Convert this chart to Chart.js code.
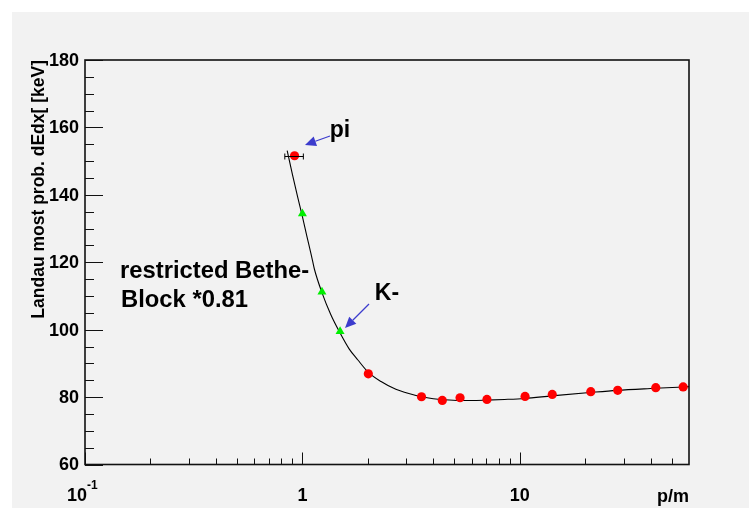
<!DOCTYPE html>
<html><head><meta charset="utf-8">
<script src="https://cdn.jsdelivr.net/npm/chart.js@4.4.1/dist/chart.umd.min.js"></script>
<style>html,body{margin:0;padding:0;background:#fff}#wrap{width:749px;height:508px}</style>
</head><body><div id="wrap"><canvas id="c" width="749" height="508"></canvas></div>
<script>
// ---- data ----
const piX = [0.92];
const piY = [151.6];
const piErrLow = [0.83];
const piErrHigh = [1.01];
const kaonX = [1.0, 1.23, 1.49];
const kaonY = [134.4, 111.2, 99.5];
const redX = [2.01, 3.53, 4.40, 5.31, 7.06, 10.57, 14.1, 21.2, 28.2, 42.2, 56.4];
const redY = [86.9, 80.1, 79.0, 79.8, 79.3, 80.2, 80.8, 81.6, 82.0, 82.8, 83.0];
const curveX = [0.851, 0.9, 0.95, 1.0, 1.05, 1.1, 1.135, 1.23, 1.35, 1.49, 1.64, 1.8, 2.0, 2.3, 2.69, 3.0, 3.53, 4.0, 4.5, 5.3, 6.0, 7.0, 8.5, 10.5, 14, 21, 28, 42, 60];
const curveY = [153.1, 146, 139.5, 133.5, 127.5, 122, 118, 111, 104.5, 99, 94.3, 91, 87.5, 84.6, 82.3, 81.3, 80.1, 79.5, 79.2, 79.0, 79.0, 79.1, 79.3, 79.6, 80.35, 81.35, 82.0, 82.6, 83.1];
const xMajorTicks = [0.1, 1, 10];
const xMinorTicks = [0.2,0.3,0.4,0.5,0.6,0.7,0.8,0.9,2,3,4,5,6,7,8,9,20,30,40,50];
const yMajorTicks = [60, 80, 100, 120, 140, 160, 180];
const yMinorTicks = [65,70,75,85,90,95,105,110,115,125,130,135,145,150,155,165,170,175];
const xTickLabels = [["10","-1"],["1",""],["10",""]];
const yTickLabels = ["60","80","100","120","140","160","180"];
const xTitle = "p/m";
const yTitle = "Landau most prob. dEdx[ [keV]";
const notes = [{text:"pi", x:340, y:131}, {text:"K-", x:387, y:294}];
const betheText = ["restricted Bethe-", "Block *0.81"];

const pts = (xs, ys) => xs.map((x, i) => ({x, y: ys[i]}));
const FONT = '"Liberation Sans", Arial, sans-serif';

const decor = {
  id: 'decor',
  beforeDraw(chart) {
    const ctx = chart.ctx;
    ctx.save();
    ctx.fillStyle = '#ffffff';
    ctx.fillRect(0, 0, chart.width, chart.height);
    ctx.fillStyle = '#f2f2f2';
    ctx.fillRect(12, 12, chart.width - 12, chart.height - 12);
    ctx.restore();
  },
  afterDatasetsDraw(chart) {
    const ctx = chart.ctx, xs = chart.scales.x, ys = chart.scales.y;
    ctx.save();
    ctx.strokeStyle = '#000'; ctx.lineWidth = 1;
    piX.forEach((v, i) => {
      const py = Math.round(ys.getPixelForValue(piY[i])) + 0.5;
      const l = xs.getPixelForValue(piErrLow[i]), r = xs.getPixelForValue(piErrHigh[i]);
      ctx.beginPath();
      ctx.moveTo(l, py); ctx.lineTo(r, py);
      ctx.moveTo(l, py - 3); ctx.lineTo(l, py + 3);
      ctx.moveTo(r, py - 3); ctx.lineTo(r, py + 3);
      ctx.stroke();
    });
    ctx.restore();
  },
  afterDraw(chart) {
    const ctx = chart.ctx, xs = chart.scales.x, ys = chart.scales.y;
    const a = chart.chartArea;
    ctx.save();
    ctx.strokeStyle = '#111'; ctx.lineWidth = 1.6;
    ctx.strokeRect(a.left, a.top, a.right - a.left, a.bottom - a.top);
    ctx.lineWidth = 1; ctx.strokeStyle = '#111';
    ctx.beginPath();
    yMajorTicks.forEach(v => { const p = Math.round(ys.getPixelForValue(v)) + 0.5; ctx.moveTo(a.left, p); ctx.lineTo(a.left + 18, p); });
    yMinorTicks.forEach(v => { const p = Math.round(ys.getPixelForValue(v)) + 0.5; ctx.moveTo(a.left, p); ctx.lineTo(a.left + 9, p); });
    xMajorTicks.forEach(v => { const p = Math.round(xs.getPixelForValue(v)) + 0.5; ctx.moveTo(p, a.bottom); ctx.lineTo(p, a.bottom - 12); });
    xMinorTicks.forEach(v => { const p = Math.round(xs.getPixelForValue(v)) + 0.5; ctx.moveTo(p, a.bottom); ctx.lineTo(p, a.bottom - 6); });
    ctx.stroke();
    ctx.fillStyle = '#000';
    ctx.font = 'bold 18px ' + FONT;
    ctx.textAlign = 'right'; ctx.textBaseline = 'middle';
    yMajorTicks.forEach((v, i) => ctx.fillText(yTickLabels[i], a.left - 6, ys.getPixelForValue(v) + 1));
    xMajorTicks.forEach((v, i) => {
      const [base, sup] = xTickLabels[i];
      const p = xs.getPixelForValue(v);
      ctx.font = 'bold 18px ' + FONT;
      const wb = ctx.measureText(base).width;
      ctx.font = 'bold 12px ' + FONT;
      const ws = sup ? ctx.measureText(sup).width : 0;
      let start = p - (wb + ws) / 2;
      if (sup) start = p - wb + 2;
      ctx.textAlign = 'left';
      ctx.font = 'bold 18px ' + FONT;
      ctx.fillText(base, start, 496);
      if (sup) { ctx.font = 'bold 12px ' + FONT; ctx.fillText(sup, start + wb, 486); }
    });
    ctx.font = 'bold 18px ' + FONT;
    ctx.textAlign = 'right'; ctx.textBaseline = 'middle';
    ctx.fillText(xTitle, a.right, 497);
    ctx.save();
    ctx.translate(39, a.top);
    ctx.rotate(-Math.PI / 2);
    ctx.font = 'bold 17.5px ' + FONT;
    ctx.textAlign = 'right'; ctx.textBaseline = 'middle';
    ctx.fillText(yTitle, 0, 0);
    ctx.restore();
    ctx.font = 'bold 23px ' + FONT;
    ctx.textAlign = 'center'; ctx.textBaseline = 'middle';
    notes.forEach(n => ctx.fillText(n.text, n.x, n.y));
    ctx.font = 'bold 23.8px ' + FONT;
    ctx.textAlign = 'left';
    ctx.fillText(betheText[0], 120, 271);
    ctx.fillText(betheText[1], 121, 300);
    const arrow = (x1, y1, x2, y2) => {
      ctx.strokeStyle = 'rgb(60,60,205)'; ctx.fillStyle = 'rgb(60,60,205)'; ctx.lineWidth = 1.2;
      const ang = Math.atan2(y2 - y1, x2 - x1), L = 11, W = 5;
      const bx = x2 - L * Math.cos(ang), by = y2 - L * Math.sin(ang);
      ctx.beginPath(); ctx.moveTo(x1, y1); ctx.lineTo(bx, by); ctx.stroke();
      ctx.beginPath();
      ctx.moveTo(x2, y2);
      ctx.lineTo(bx + W * Math.sin(ang), by - W * Math.cos(ang));
      ctx.lineTo(bx - W * Math.sin(ang), by + W * Math.cos(ang));
      ctx.closePath(); ctx.fill();
    };
    arrow(330, 136, 305, 145);
    arrow(369, 304, 345, 328);
    ctx.restore();
  }
};

new Chart(document.getElementById('c'), {
  type: 'scatter',
  data: {
    datasets: [
      { data: pts(piX, piY), pointStyle: 'circle', pointRadius: 4.6, backgroundColor: '#ff0000', borderColor: '#ff0000', borderWidth: 0 },
      { data: pts(kaonX, kaonY), pointStyle: 'triangle', pointRadius: 5.2, backgroundColor: '#00ee00', borderColor: '#00ee00', borderWidth: 0 },
      { data: pts(redX, redY), pointStyle: 'circle', pointRadius: 4.6, backgroundColor: '#ff0000', borderColor: '#ff0000', borderWidth: 0 },
      { data: pts(curveX, curveY), showLine: true, pointRadius: 0, borderColor: '#000', borderWidth: 1.1, cubicInterpolationMode: 'monotone', fill: false }
    ]
  },
  options: {
    responsive: false, animation: false, devicePixelRatio: 1,
    layout: { padding: { left: 85, top: 60, right: 60, bottom: 43.5 } },
    plugins: { legend: { display: false }, tooltip: { enabled: false } },
    scales: {
      x: { type: 'logarithmic', min: 0.1, max: 60, display: false },
      y: { type: 'linear', min: 60, max: 180, display: false }
    }
  },
  plugins: [decor]
});
</script></body></html>
